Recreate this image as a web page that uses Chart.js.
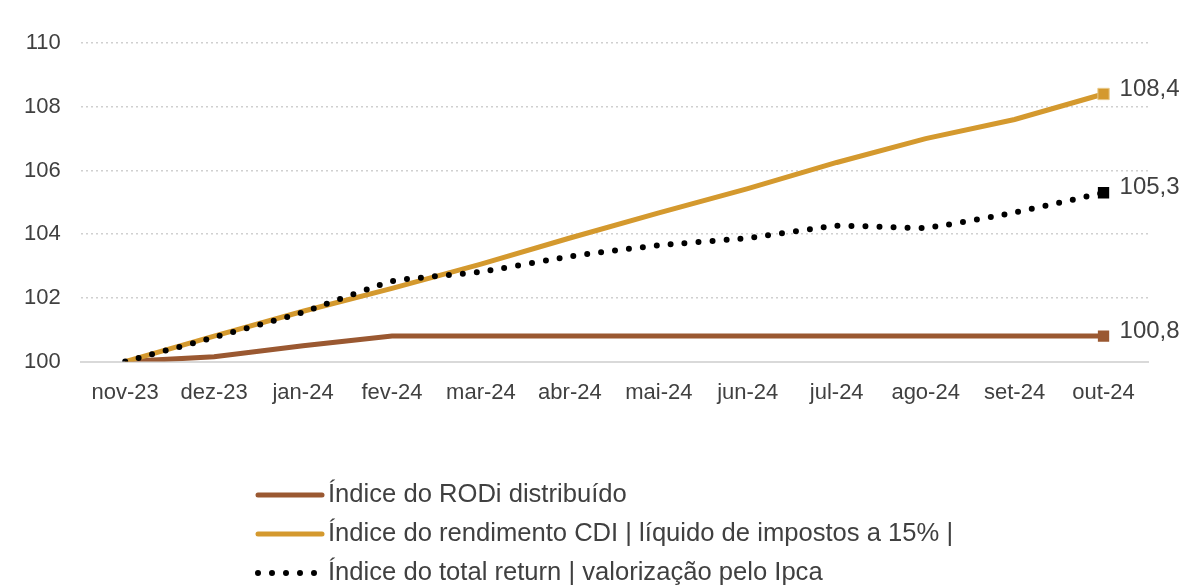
<!DOCTYPE html>
<html>
<head>
<meta charset="utf-8">
<script src="https://cdn.jsdelivr.net/npm/chart.js@4.4.1/dist/chart.umd.min.js"></script>
<style>
  html, body { margin: 0; padding: 0; background: #fff; }
  canvas { display: block; }
</style>
</head>
<body>
<canvas id="grafico" width="1188" height="587"></canvas>
<script>
// categorias e séries
const meses = ['nov-23', 'dez-23', 'jan-24', 'fev-24', 'mar-24', 'abr-24', 'mai-24', 'jun-24', 'jul-24', 'ago-24', 'set-24', 'out-24'];
const indiceRodi = [100, 100.15, 100.5, 100.8, 100.8, 100.8, 100.8, 100.8, 100.8, 100.8, 100.8, 100.8];
const indiceCdi = [100, 100.8, 101.58, 102.3, 103.06, 103.88, 104.67, 105.43, 106.25, 107.0, 107.6, 108.4];
const indiceTotal = [100, 100.76, 101.55, 102.52, 102.82, 103.3, 103.65, 103.88, 104.26, 104.2, 104.68, 105.3];
const rotulosFinais = ['100,8', '108,4', '105,3'];
const nomesSeries = [
    'Índice do RODi distribuído',
    'Índice do rendimento CDI | líquido de impostos a 15% |',
    'Índice do total return | valorização pelo Ipca'
];

const corTexto = '#404040';
const fonte = 'Liberation Sans, Arial, sans-serif';

function soUltimo(r) {
    return meses.map((m, i) => i === meses.length - 1 ? r : 0);
}

// rótulos do último ponto e legenda desenhados no canvas
const pluginExtras = {
    id: 'extras',
    afterDatasetsDraw(chart) {
        const ctx = chart.ctx;
        ctx.save();
        ctx.font = '24px ' + fonte;
        ctx.fillStyle = corTexto;
        ctx.textBaseline = 'middle';
        ctx.textAlign = 'left';
        chart.data.datasets.forEach((ds, i) => {
            const meta = chart.getDatasetMeta(i);
            const pt = meta.data[meta.data.length - 1];
            ctx.fillText(rotulosFinais[i], pt.x + 16, pt.y - 5);
        });

        // legenda
        const x0 = 255, x1 = 322;
        const linhas = [495, 534, 573];
        ctx.font = '25.6px ' + fonte;
        chart.data.datasets.forEach((ds, i) => {
            const y = linhas[i];
            ctx.beginPath();
            ctx.strokeStyle = ds.borderColor;
            ctx.lineWidth = ds.borderWidth;
            ctx.lineCap = 'round';
            ctx.setLineDash(ds.borderDash || []);
            ctx.moveTo(x0 + 3, y);
            ctx.lineTo(x1, y);
            ctx.stroke();
            ctx.setLineDash([]);
            ctx.fillStyle = corTexto;
            ctx.fillText(nomesSeries[i], x1 + 6, y);
        });
        ctx.restore();
    }
};

const ctx = document.getElementById('grafico').getContext('2d');
new Chart(ctx, {
    type: 'line',
    data: {
        labels: meses,
        datasets: [{
            label: nomesSeries[0],
            data: indiceRodi,
            borderColor: '#9a5831',
            backgroundColor: '#9a5831',
            borderWidth: 5,
            pointStyle: 'rect',
            pointRadius: soUltimo(8),
            pointBorderWidth: 0,
            tension: 0,
            order: 2
        }, {
            label: nomesSeries[1],
            data: indiceCdi,
            borderColor: '#d4992e',
            backgroundColor: '#d4992e',
            borderWidth: 5,
            pointStyle: 'rect',
            pointRadius: soUltimo(8),
            pointBorderWidth: 1,
            pointBorderColor: '#e8c98a',
            tension: 0,
            order: 1
        }, {
            label: nomesSeries[2],
            data: indiceTotal,
            borderColor: '#000000',
            backgroundColor: '#000000',
            borderWidth: 6,
            borderDash: [0, 14],
            borderCapStyle: 'round',
            pointStyle: 'rect',
            pointRadius: soUltimo(8),
            pointBorderWidth: 0,
            tension: 0.15,
            order: 0
        }]
    },
    options: {
        responsive: false,
        animation: false,
        layout: {
            padding: { top: 43, right: 40, bottom: 171, left: 4 }
        },
        plugins: {
            legend: { display: false },
            tooltip: { enabled: false }
        },
        scales: {
            x: {
                offset: true,
                grid: { display: false },
                border: { display: true, color: '#d9d9d9', width: 2 },
                ticks: {
                    color: corTexto,
                    font: { family: fonte, size: 22 },
                    padding: 10,
                    maxRotation: 0
                }
            },
            y: {
                min: 100,
                max: 110,
                grid: { color: '#d0d0d0', lineWidth: 1.5, drawTicks: false },
                border: { display: false, dash: [2, 3] },
                ticks: {
                    stepSize: 2,
                    color: corTexto,
                    font: { family: fonte, size: 22 },
                    padding: 20
                }
            }
        }
    },
    plugins: [pluginExtras]
});
</script>
</body>
</html>
